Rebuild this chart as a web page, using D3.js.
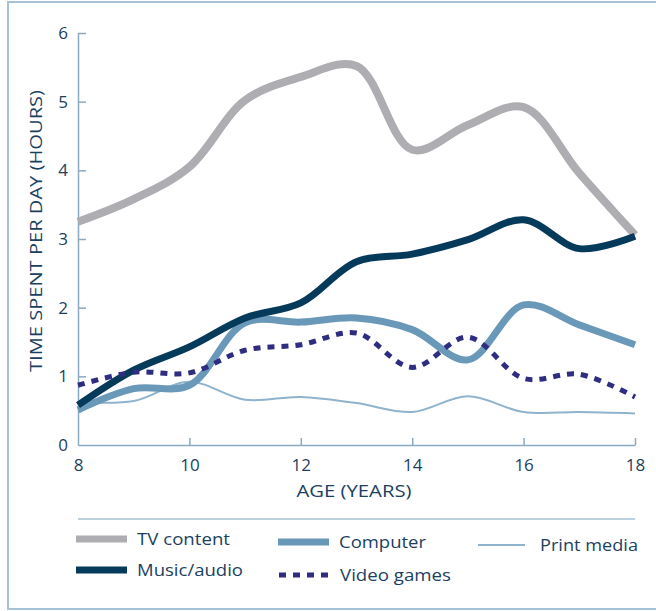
<!DOCTYPE html>
<html>
<head>
<meta charset="utf-8">
<script src="https://cdn.jsdelivr.net/npm/d3@7"></script>
<style>
  html, body { margin: 0; padding: 0; background: #fff; }
  svg { display: block; }
  text { font-family: "Open Sans", "Noto Sans", sans-serif; fill: #1b3f5f; }
</style>
</head>
<body>
<svg id="chart" width="656" height="611"></svg>
<script>
// ---- data ----
const ages = [8, 9, 10, 11, 12, 13, 14, 15, 16, 17, 18];
const tvContent  = [3.25, 3.58, 4.05, 5.02, 5.36, 5.52, 4.30, 4.66, 4.92, 3.96, 3.06];
const musicAudio = [0.58, 1.09, 1.43, 1.85, 2.07, 2.67, 2.78, 2.99, 3.28, 2.86, 3.04];
const computer   = [0.51, 0.82, 0.87, 1.78, 1.79, 1.85, 1.68, 1.24, 2.04, 1.75, 1.46];
const videoGames = [0.87, 1.06, 1.05, 1.38, 1.46, 1.63, 1.13, 1.57, 0.97, 1.03, 0.70];
const printMedia = [0.63, 0.64, 0.92, 0.66, 0.70, 0.61, 0.48, 0.71, 0.48, 0.48, 0.46];
const seriesNames = ["TV content", "Computer", "Print media", "Music/audio", "Video games"];
const xTicks = [8, 10, 12, 14, 16, 18];
const yTicks = [0, 1, 2, 3, 4, 5, 6];

const series = [
  { name: "TV content",  values: tvContent,  color: "#aeaeb2", width: 8, dash: null },
  { name: "Computer",    values: computer,   color: "#6a98b8", width: 7, dash: null },
  { name: "Print media", values: printMedia, color: "#8fb3cd", width: 2, dash: null },
  { name: "Music/audio", values: musicAudio, color: "#063a5b", width: 7, dash: null },
  { name: "Video games", values: videoGames, color: "#2e2d80", width: 5, dash: "7,7" }
];
const drawOrder = ["TV content", "Print media", "Computer", "Music/audio", "Video games"];

const svg = d3.select("#chart");
const axisColor = "#89aac2";
const textColor = "#1b3f5f";

// frame
svg.append("rect").attr("x", 8).attr("y", 2).attr("width", 660).attr("height", 607)
  .attr("fill", "none").attr("stroke", "#a6c2d5").attr("stroke-width", 2);

const x = d3.scaleLinear().domain([8, 18]).range([78, 635]);
const y = d3.scaleLinear().domain([0, 6]).range([445, 33]);

// axes (ticks pointing inward)
const xAxis = svg.append("g").attr("transform", `translate(0,${y(0)})`)
  .call(d3.axisBottom(x).tickValues(xTicks).tickFormat(d3.format("d"))
    .tickSizeInner(-7).tickSizeOuter(0).tickPadding(14));
const yAxis = svg.append("g").attr("transform", `translate(${x(8)},0)`)
  .call(d3.axisLeft(y).tickValues(yTicks).tickFormat(d3.format("d"))
    .tickSizeInner(-8).tickSizeOuter(0).tickPadding(10));
[xAxis, yAxis].forEach(g => {
  g.attr("font-size", null).attr("font-family", null);
  g.select(".domain").attr("stroke", axisColor).attr("stroke-width", 1.5);
  g.selectAll(".tick line").attr("stroke", axisColor).attr("stroke-width", 1.5);
  g.selectAll(".tick text").style("font-size", "17px").style("fill", textColor)
    .style("font-family", '"Open Sans", sans-serif');
});
xAxis.selectAll(".tick").filter(d => d === 8).select("line").remove();
yAxis.selectAll(".tick").filter(d => d === 0).select("line").remove();

// axis titles
svg.append("text").attr("x", 354).attr("y", 497).attr("text-anchor", "middle")
  .style("font-size", "17px").attr("textLength", 115).attr("lengthAdjust", "spacingAndGlyphs")
  .text("AGE (YEARS)");
svg.append("text").attr("transform", "translate(42,231) rotate(-90)").attr("text-anchor", "middle")
  .style("font-size", "17px").attr("textLength", 282).attr("lengthAdjust", "spacingAndGlyphs")
  .text("TIME SPENT PER DAY (HOURS)");

// lines
const line = d3.line().x((d, i) => x(ages[i])).y(d => y(d)).curve(d3.curveCatmullRom.alpha(0.5));
drawOrder.forEach(n => {
  const s = series.find(d => d.name === n);
  svg.append("path").attr("d", line(s.values)).attr("fill", "none")
    .attr("stroke", s.color).attr("stroke-width", s.width)
    .attr("stroke-dasharray", s.dash).attr("stroke-linejoin", "round");
});

// legend separator
svg.append("line").attr("x1", 78).attr("x2", 635).attr("y1", 519).attr("y2", 519)
  .attr("stroke", "#a6c2d5").attr("stroke-width", 1.5);

// legend
const legendPos = {
  "TV content":  { x: 76,  y: 539, tw: 93 },
  "Computer":    { x: 278, y: 542, tw: 87 },
  "Print media": { x: 478, y: 545, tw: 98 },
  "Music/audio": { x: 76,  y: 570, tw: 106 },
  "Video games": { x: 279, y: 575, tw: 111 }
};
seriesNames.forEach(n => {
  const s = series.find(d => d.name === n);
  const p = legendPos[n];
  const w = n === "Print media" ? 47 : 51;
  svg.append("line").attr("x1", p.x).attr("x2", p.x + w).attr("y1", p.y).attr("y2", p.y)
    .attr("stroke", s.color).attr("stroke-width", n === "Print media" ? 2 : (n === "Video games" ? 5 : 7))
    .attr("stroke-dasharray", s.dash);
  svg.append("text").attr("x", p.x + w + (n === "Print media" ? 15 : 10)).attr("y", p.y + 6)
    .style("font-size", "17px").attr("textLength", p.tw).attr("lengthAdjust", "spacingAndGlyphs")
    .text(n);
});
</script>
</body>
</html>
